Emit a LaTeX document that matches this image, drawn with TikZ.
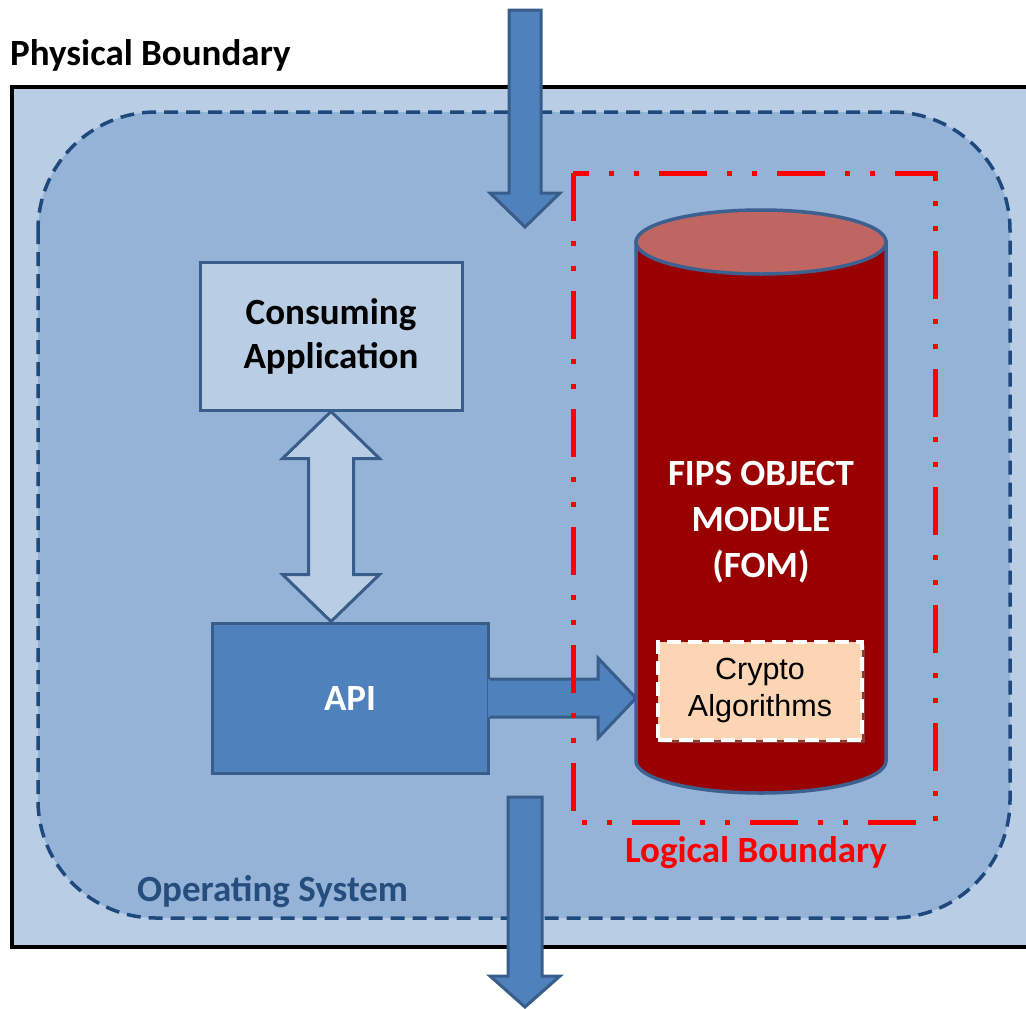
\documentclass[tikz,border=0pt]{standalone}
\usepackage{fontspec}
\setmainfont{Carlito}
\newfontfamily\arialfont{Liberation Sans}
\usetikzlibrary{calc,shadows}
\definecolor{physfill}{HTML}{B9CDE5}
\definecolor{osfill}{HTML}{95B3D7}
\definecolor{osline}{HTML}{1F497D}
\definecolor{ostext}{HTML}{254E7F}
\definecolor{boxline}{HTML}{385D8A}
\definecolor{apifill}{HTML}{4F81BD}
\definecolor{cylred}{HTML}{990000}
\definecolor{cyltop}{HTML}{BF6662}
\definecolor{cylline}{HTML}{3C6090}
\definecolor{peach}{HTML}{FCD5B5}
\definecolor{logred}{HTML}{FF0000}
\begin{document}
\begin{tikzpicture}[x=1pt,y=-1pt,
  bigfont/.style={font=\fontsize{37}{44}\selectfont\bfseries},
  lbl/.style={bigfont, inner sep=0pt},
  bluebox/.style={draw=boxline, line width=3pt, align=center, bigfont, inner sep=0pt},
  flowarrow/.style={fill=apifill, draw=boxline, line width=3pt},
  dblarrow/.style={fill=physfill, draw=boxline, line width=3pt},
  cylstyle/.style={draw=cylline, line width=3.5pt},
  cryptobox/.style={fill=peach, draw=white, line width=4.5pt, dash pattern=on 14pt off 7pt,
    minimum width=204pt, minimum height=98pt, align=center, inner sep=0pt,
    font=\arialfont\fontsize{30.5}{37}\selectfont,
    drop shadow={opacity=0.45, shadow xshift=3pt, shadow yshift=-3pt}},
  logical/.style={draw=logred, line width=5pt,
    dash pattern=on 48pt off 20pt on 5pt off 20pt on 5pt off 20pt}
]
\useasboundingbox (0,0) rectangle (1026,1009);

% physical boundary
\draw[fill=physfill, line width=4.5pt] (12,87) rectangle (1045,947);
\node[lbl, anchor=base west] (phys) at (10,65) {Physical Boundary};

% operating system
\draw[fill=osfill, draw=osline, line width=3.5pt, dash pattern=on 14pt off 8pt,
  rounded corners=118pt] (38,112) rectangle (1010,918);
\node[lbl, anchor=base west, text=ostext] (os) at (137,901) {Operating System};

% consuming application
\node[bluebox, fill=physfill, minimum width=262pt, minimum height=148pt] (ca) at (331,336)
  {Consuming\\Application};

% API
\node[bluebox, fill=apifill, text=white, minimum width=276pt, minimum height=150pt] (api) at (350,698) {API};

% double arrow between application and API
\coordinate (dab) at (ca.south |- api.north);
\draw[dblarrow] (ca.south) -- ++(48.5,47) -- ++(-26,0) -- ($(dab)+(22.5,-47)$) -- ++(26,0)
  -- (dab) -- ++(-48.5,-47) -- ++(26,0) -- ($(ca.south)+(-22.5,47)$) -- ++(-26,0) -- cycle;

% cylinder (FIPS object module)
\coordinate (cyltop) at (761,242);
\coordinate (cylw) at (636,698);
\draw[cylstyle, fill=cylred] (636,242) -- (636,761)
  arc[start angle=180, end angle=360, x radius=125pt, y radius=32pt] -- (886,242) -- cycle;
\draw[cylstyle, fill=cyltop] (cyltop) ellipse[x radius=125pt, y radius=32pt];
\node[lbl, text=white, align=center, font=\fontsize{37}{46}\selectfont\bfseries] (fom) at (761,522)
  {FIPS OBJECT\\MODULE\\(FOM)};

% API -> module arrow
\fill[apifill] ($(api.east)+(-1.6,-19)$) -- ($(cylw)+(-38,-19)$) -- ($(cylw)+(-38,-40)$) -- (cylw)
  -- ($(cylw)+(-38,40)$) -- ($(cylw)+(-38,19)$) -- ($(api.east)+(-1.6,19)$) -- cycle;
\draw[draw=boxline, line width=3pt] ($(api.east)+(0,-19)$) -- ($(cylw)+(-38,-19)$) -- ($(cylw)+(-38,-40)$) -- (cylw)
  -- ($(cylw)+(-38,40)$) -- ($(cylw)+(-38,19)$) -- ($(api.east)+(0,19)$);

% crypto algorithms
\node[cryptobox] (crypto) at (760,691) {Crypto\\Algorithms};

% logical boundary
\draw[logical] (573,173) rectangle (935,822);
\node[lbl, anchor=base, text=logred] (lb) at (756,862) {Logical Boundary};

% incoming arrow
\coordinate (topstart) at (525,10);
\coordinate (toptip) at (525,227);
\draw[flowarrow] ($(topstart)+(-16,0)$) -- ($(topstart)+(16,0)$) -- ($(toptip)+(16,-34)$)
  -- ($(toptip)+(35,-34)$) -- (toptip) -- ($(toptip)+(-35,-34)$) -- ($(toptip)+(-16,-34)$) -- cycle;

% outgoing arrow
\coordinate (botstart) at (525,797);
\coordinate (bottip) at (525,1007);
\draw[flowarrow] ($(botstart)+(-17,0)$) -- ($(botstart)+(17,0)$) -- ($(bottip)+(17,-31)$)
  -- ($(bottip)+(35,-31)$) -- (bottip) -- ($(bottip)+(-35,-31)$) -- ($(bottip)+(-17,-31)$) -- cycle;
\end{tikzpicture}
\end{document}
